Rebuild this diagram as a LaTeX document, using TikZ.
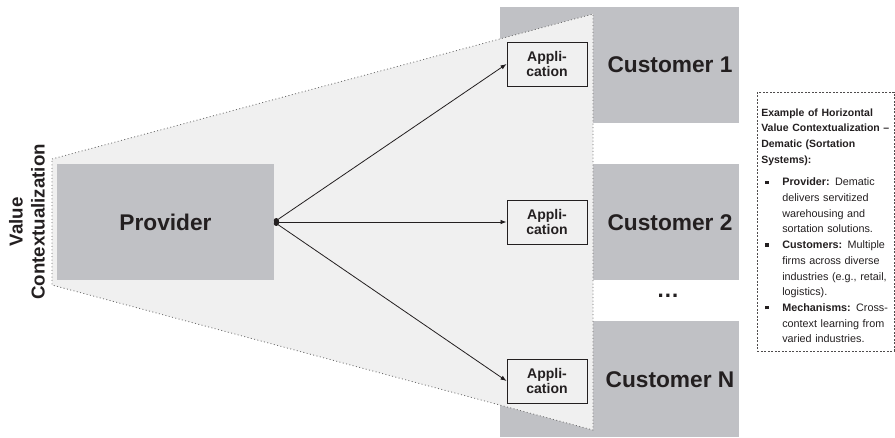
\documentclass[tikz,border=0pt]{standalone}
\usepackage{fontspec}
\setmainfont{Liberation Sans}
\usetikzlibrary{arrows.meta,calc}
\definecolor{boxgray}{RGB}{192,193,197}
\definecolor{conegray}{RGB}{240,240,240}
\definecolor{ink}{RGB}{35,31,32}
\hfuzz=20pt
\newcommand{\sqbullet}{\makebox[21pt][l]{\hspace{4pt}\rule[2pt]{3.2pt}{3.2pt}}}
\newcommand{\firstline}[1]{\par\noindent\sqbullet\mbox{#1}}
\newcommand{\nextline}[1]{\par\noindent\hspace*{21pt}\mbox{#1}}
\newcommand{\headline}[1]{\par\noindent\mbox{\fontsize{10.5}{15.7}\selectfont\textbf{#1}}}
\tikzset{
	bigfont/.style={font=\bfseries\fontsize{22.7}{24}\selectfont, text=ink},
	block/.style={fill=boxgray, inner sep=0pt, bigfont},
	app/.style={draw=ink, line width=0.9pt, minimum width=80pt, minimum height=44pt, inner sep=0pt, align=center, text=ink, font=\bfseries\fontsize{14}{15}\selectfont},
	link/.style={draw=ink, line width=0.8pt, {Circle[length=5pt]}-{Latex[length=6pt,width=4.5pt]}},
	notebox/.style={draw=ink!80, dash pattern=on 2pt off 1.5pt, line width=0.6pt, text width=129pt, inner xsep=4pt, inner ysep=8pt, text=ink, font=\fontsize{10.8}{15.7}\selectfont},
}

\begin{document}
\begin{tikzpicture}[x=1pt,y=-1pt]
	\useasboundingbox (0,0) rectangle (895,437);
	%\draw[help lines] (0,0) grid[step=50] (895,437);
	\fill[boxgray] (500,7) rectangle (739,123);
	\fill[boxgray] (500,164) rectangle (739,280);
	\fill[boxgray] (500,321) rectangle (739,437);

	\fill[conegray] (52,159) -- (593,14) -- (593,430) -- (52,285) -- cycle;
	\draw[gray!85!black, line width=0.8pt, dash pattern=on 1pt off 2.4pt] (52,159) -- (593,14) -- (593,430) -- (52,285) -- cycle;

	\node[rotate=90, align=center, text=ink, font=\bfseries\fontsize{18.7}{22}\selectfont] (valuectx) at (27,222) {Value\\Contextualization};

	\node[block, minimum width=217pt, minimum height=116pt] (provider) at (165.5,222) {Provider};

	\node[app] (app1) at (547,64) {Appli-\\cation};
	\node[app] (app2) at (547,222) {Appli-\\cation};
	\node[app] (app3) at (547,381) {Appli-\\cation};

	\draw[link] (provider.east) -- (app1.west);
	\draw[link] (provider.east) -- (app2.west);
	\draw[link] (provider.east) -- (app3.west);

	\node[bigfont] (cust1) at (670,65) {Customer 1};
	\node[bigfont] (cust2) at (670,223) {Customer 2};
	\node[bigfont] (custn) at (670,380) {Customer N};
	\node[bigfont] (more) at (668,296) {…};

	\node[notebox, anchor=north west] (example) at (757,92) {%
		\headline{Example of Horizontal}
		\headline{Value Contextualization –}
		\headline{Dematic (Sortation}
		\headline{Systems):}\par\vspace{7pt}
		\firstline{\textbf{Provider:} Dematic}
		\nextline{delivers servitized}
		\nextline{warehousing and}
		\nextline{sortation solutions.}
		\firstline{\textbf{Customers:} Multiple}
		\nextline{firms across diverse}
		\nextline{industries (e.g., retail,}
		\nextline{logistics).}
		\firstline{\textbf{Mechanisms:} Cross-}
		\nextline{context learning from}
		\nextline{varied industries.}\par};
\end{tikzpicture}
\end{document}
